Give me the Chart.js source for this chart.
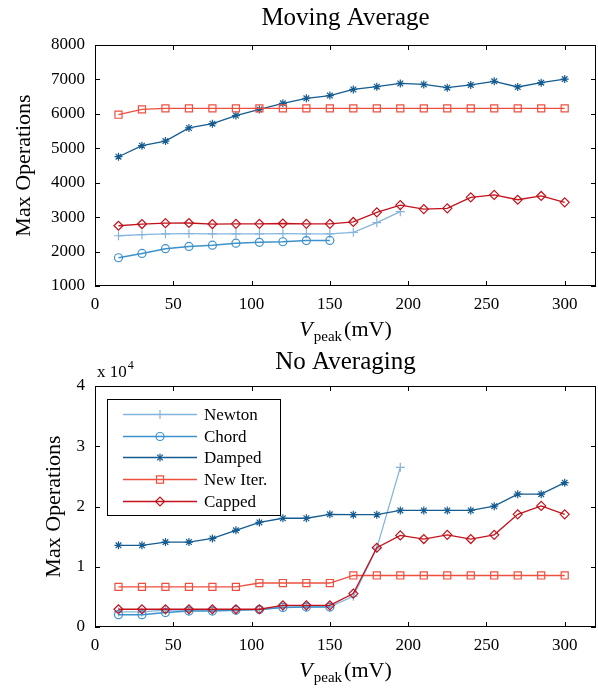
<!DOCTYPE html>
<html>
<head>
<meta charset="utf-8">
<script src="https://cdn.jsdelivr.net/npm/chart.js@4.4.1/dist/chart.umd.min.js"></script>
<style>
    html, body { margin: 0; padding: 0; background: #fff; }
    #wrap { position: relative; width: 598px; height: 689px; }
    #wrap canvas { position: absolute; left: 0; }
    #avgChart { top: 0; }
    #rawChart { top: 344px; }
</style>
</head>
<body>
<div id="wrap">
    <canvas id="avgChart" width="598" height="344"></canvas>
    <canvas id="rawChart" width="598" height="345"></canvas>
</div>
<script>
// x positions (V_peak, mV) and axis ticks
const vPeak = [15, 30, 45, 60, 75, 90, 105, 120, 135, 150, 165, 180, 195, 210, 225, 240, 255, 270, 285, 300];
const xTicks = [0, 50, 100, 150, 200, 250, 300];
const avgTicks = [1000, 2000, 3000, 4000, 5000, 6000, 7000, 8000];
const rawTicks = [0, 10000, 20000, 30000, 40000];

const methodNames = ["Newton", "Chord", "Damped", "New Iter.", "Capped"];

// Moving Average panel
const avgNewton = [2460, 2490, 2515, 2520, 2515, 2515, 2515, 2520, 2515, 2515, 2560, 2840, 3160];
const avgChord = [1820, 1945, 2085, 2150, 2185, 2245, 2270, 2285, 2320, 2325];
const avgDamped = [4755, 5075, 5210, 5590, 5715, 5950, 6130, 6305, 6450, 6530, 6710, 6790, 6885, 6855, 6760, 6840, 6945, 6780, 6905, 7010];
const avgNewIter = [5975, 6130, 6160, 6160, 6160, 6160, 6160, 6160, 6160, 6160, 6160, 6160, 6160, 6160, 6160, 6160, 6160, 6160, 6160, 6160];
const avgCapped = [2750, 2800, 2825, 2830, 2800, 2805, 2805, 2815, 2805, 2805, 2860, 3140, 3350, 3235, 3255, 3575, 3645, 3505, 3615, 3430];

// No Averaging panel
const rawNewton = [2500, 2500, 2800, 2800, 2800, 2850, 2900, 3300, 3350, 3350, 5100, 13100, 26500];
const rawChord = [2050, 2050, 2400, 2650, 2650, 2800, 2900, 3250, 3300, 3300];
const rawDamped = [13550, 13550, 14100, 14100, 14700, 16050, 17350, 18050, 18050, 18700, 18650, 18650, 19350, 19350, 19350, 19350, 20050, 22050, 22050, 23950];
const rawNewIter = [6650, 6650, 6650, 6650, 6650, 6650, 7300, 7300, 7300, 7300, 8550, 8550, 8550, 8550, 8550, 8550, 8550, 8550, 8550, 8550];
const rawCapped = [2950, 2950, 2950, 2950, 2950, 2950, 2950, 3600, 3600, 3600, 5550, 13150, 15200, 14600, 15300, 14600, 15300, 18700, 20100, 18700];

const SERIF = "'Liberation Serif', 'Times New Roman', serif";

const methodStyles = [
    { color: "#85b5dc", pointStyle: "cross", radius: 4.5, width: 1.3 },
    { color: "#3d92cb", pointStyle: "circle", radius: 4, width: 1.5 },
    { color: "#155c91", pointStyle: "star", radius: 4, width: 1.3 },
    { color: "#ef4f3f", pointStyle: "rect", radius: 5, width: 1.3 },
    { color: "#c2121c", pointStyle: "rectRot", radius: 4.5, width: 1.3 }
];

function buildDatasets(seriesList) {
    return seriesList.map((values, i) => {
        const st = methodStyles[i];
        return {
            label: methodNames[i],
            data: values.map((v, j) => ({ x: vPeak[j], y: v })),
            borderColor: st.color,
            backgroundColor: "rgba(0,0,0,0)",
            borderWidth: st.width,
            pointStyle: st.pointStyle,
            pointRadius: st.radius,
            pointBorderWidth: 1.2,
            pointBorderColor: st.color,
            pointBackgroundColor: "rgba(0,0,0,0)",
            tension: 0,
            order: methodNames.length - i
        };
    });
}

/* panel title, centred over the plot area rather than the canvas */
const panelTitle = {
    id: "panelTitle",
    afterDraw(chart, args, opts) {
        const { ctx, chartArea: a } = chart;
        ctx.save();
        ctx.fillStyle = "#000";
        ctx.font = "25px " + SERIF;
        ctx.textAlign = "center";
        ctx.textBaseline = "middle";
        ctx.fillText(opts.text, (a.left + a.right) / 2, 18);
        ctx.restore();
    }
};

/* frame round the plot area with inward ticks on all four sides */
const boxFrame = {
    id: "boxFrame",
    afterDatasetsDraw(chart) {
        const { ctx, chartArea: a, scales } = chart;
        ctx.save();
        ctx.strokeStyle = "#000";
        ctx.lineWidth = 1;
        ctx.strokeRect(a.left + 0.5, a.top + 0.5, a.right - a.left - 1, a.bottom - a.top - 1);
        ctx.beginPath();
        scales.x.ticks.forEach(t => {
            const px = Math.round(scales.x.getPixelForValue(t.value)) + 0.5;
            ctx.moveTo(px, a.bottom); ctx.lineTo(px, a.bottom - 5);
            ctx.moveTo(px, a.top); ctx.lineTo(px, a.top + 5);
        });
        scales.y.ticks.forEach(t => {
            const py = Math.round(scales.y.getPixelForValue(t.value)) + 0.5;
            ctx.moveTo(a.left, py); ctx.lineTo(a.left + 5, py);
            ctx.moveTo(a.right, py); ctx.lineTo(a.right - 5, py);
        });
        ctx.stroke();
        ctx.restore();
    }
};

/* x axis title: V_peak (mV) with subscript */
const vPeakLabel = {
    id: "vPeakLabel",
    afterDraw(chart) {
        const { ctx, chartArea: a } = chart;
        const parts = [
            { text: "V", font: "italic 22px " + SERIF, dy: 0, gap: 1 },
            { text: "peak", font: "15px " + SERIF, dy: 5, gap: 2 },
            { text: "(mV)", font: "22px " + SERIF, dy: 0, gap: 0 }
        ];
        ctx.save();
        let total = 0;
        parts.forEach(p => { ctx.font = p.font; p.w = ctx.measureText(p.text).width; total += p.w + p.gap; });
        let x = (a.left + a.right) / 2 - total / 2;
        const base = a.bottom + 50;
        ctx.fillStyle = "#000";
        ctx.textBaseline = "alphabetic";
        ctx.textAlign = "left";
        parts.forEach(p => {
            ctx.font = p.font;
            ctx.fillText(p.text, x, base + p.dy);
            x += p.w + p.gap;
        });
        ctx.restore();
    }
};

/* "x 10^4" multiplier above the lower panel */
const expLabel = {
    id: "expLabel",
    afterDraw(chart, args, opts) {
        if (!opts.show) return;
        const { ctx, chartArea: a } = chart;
        ctx.save();
        ctx.fillStyle = "#000";
        ctx.textBaseline = "alphabetic";
        ctx.font = "17px " + SERIF;
        const w = ctx.measureText("x 10").width;
        ctx.fillText("x 10", a.left + 2, a.top - 9);
        ctx.font = "12px " + SERIF;
        ctx.fillText("4", a.left + 3 + w, a.top - 17);
        ctx.restore();
    }
};

/* boxed legend inside the lower panel */
const boxLegend = {
    id: "boxLegend",
    afterDraw(chart, args, opts) {
        if (!opts.show) return;
        const { ctx, chartArea: a } = chart;
        const x0 = a.left + 12, y0 = a.top + 13, w = 173, h = 116;
        ctx.save();
        ctx.fillStyle = "#fff";
        ctx.fillRect(x0, y0, w, h);
        ctx.strokeStyle = "#000";
        ctx.lineWidth = 1;
        ctx.strokeRect(x0 + 0.5, y0 + 0.5, w, h);
        chart.data.datasets.forEach((ds, i) => {
            const y = Math.round(y0 + 15 + i * 21.7) + 0.5;
            ctx.strokeStyle = ds.borderColor;
            ctx.lineWidth = ds.borderWidth;
            ctx.beginPath();
            ctx.moveTo(x0 + 16, y);
            ctx.lineTo(x0 + 90, y);
            ctx.stroke();
            ctx.fillStyle = "rgba(0,0,0,0)";
            ctx.lineWidth = ds.pointBorderWidth;
            Chart.helpers.drawPoint(ctx, {
                pointStyle: ds.pointStyle, radius: ds.pointRadius, rotation: 0, borderWidth: ds.pointBorderWidth
            }, x0 + 53, y);
            ctx.fillStyle = "#000";
            ctx.font = "17px " + SERIF;
            ctx.textBaseline = "middle";
            ctx.fillText(ds.label, x0 + 97, y + 1);
        });
        ctx.restore();
    }
};

function makeChart(canvasId, cfg) {
    return new Chart(document.getElementById(canvasId), {
        type: "line",
        data: { datasets: buildDatasets(cfg.series) },
        options: {
            responsive: false,
            animation: false,
            layout: { autoPadding: false, padding: { left: 0, right: 2, top: cfg.topSpace, bottom: 0 } },
            plugins: {
                legend: { display: false },
                tooltip: { enabled: false },
                title: { display: false },
                panelTitle: { text: cfg.title },
                expLabel: { show: cfg.exponent },
                boxLegend: { show: cfg.legend }
            },
            scales: {
                x: {
                    type: "linear",
                    min: 0,
                    max: 320,
                    grid: { display: false, drawTicks: false },
                    border: { display: false },
                    afterBuildTicks: s => { s.ticks = xTicks.map(v => ({ value: v })); },
                    afterFit: s => { s.height = cfg.xHeight; },
                    ticks: {
                        padding: 8,
                        color: "#000",
                        font: { family: SERIF, size: 17 },
                        maxRotation: 0
                    }
                },
                y: {
                    min: cfg.yMin,
                    max: cfg.yMax,
                    grid: { display: false, drawTicks: false },
                    border: { display: false },
                    afterBuildTicks: s => { s.ticks = cfg.yTicks.map(v => ({ value: v })); },
                    afterFit: s => { s.width = 95; },
                    title: {
                        display: true,
                        text: "Max Operations",
                        color: "#000",
                        font: { family: SERIF, size: 22, weight: "normal" },
                        padding: { top: cfg.yTitlePad, bottom: 0 }
                    },
                    ticks: {
                        padding: 10,
                        color: "#000",
                        font: { family: SERIF, size: 17 },
                        callback: cfg.tickFmt
                    }
                }
            }
        },
        plugins: [panelTitle, boxFrame, vPeakLabel, expLabel, boxLegend]
    });
}

makeChart("avgChart", {
    title: "Moving Average",
    topSpace: 45,
    series: [avgNewton, avgChord, avgDamped, avgNewIter, avgCapped],
    yMin: 1000, yMax: 8000, yTicks: avgTicks,
    xHeight: 58, yTitlePad: 11,
    tickFmt: v => String(v),
    exponent: false, legend: false
});

makeChart("rawChart", {
    title: "No Averaging",
    topSpace: 42,
    series: [rawNewton, rawChord, rawDamped, rawNewIter, rawCapped],
    yMin: 0, yMax: 40000, yTicks: rawTicks,
    xHeight: 62, yTitlePad: 41,
    tickFmt: v => String(v / 10000),
    exponent: true, legend: true
});
</script>
</body>
</html>
